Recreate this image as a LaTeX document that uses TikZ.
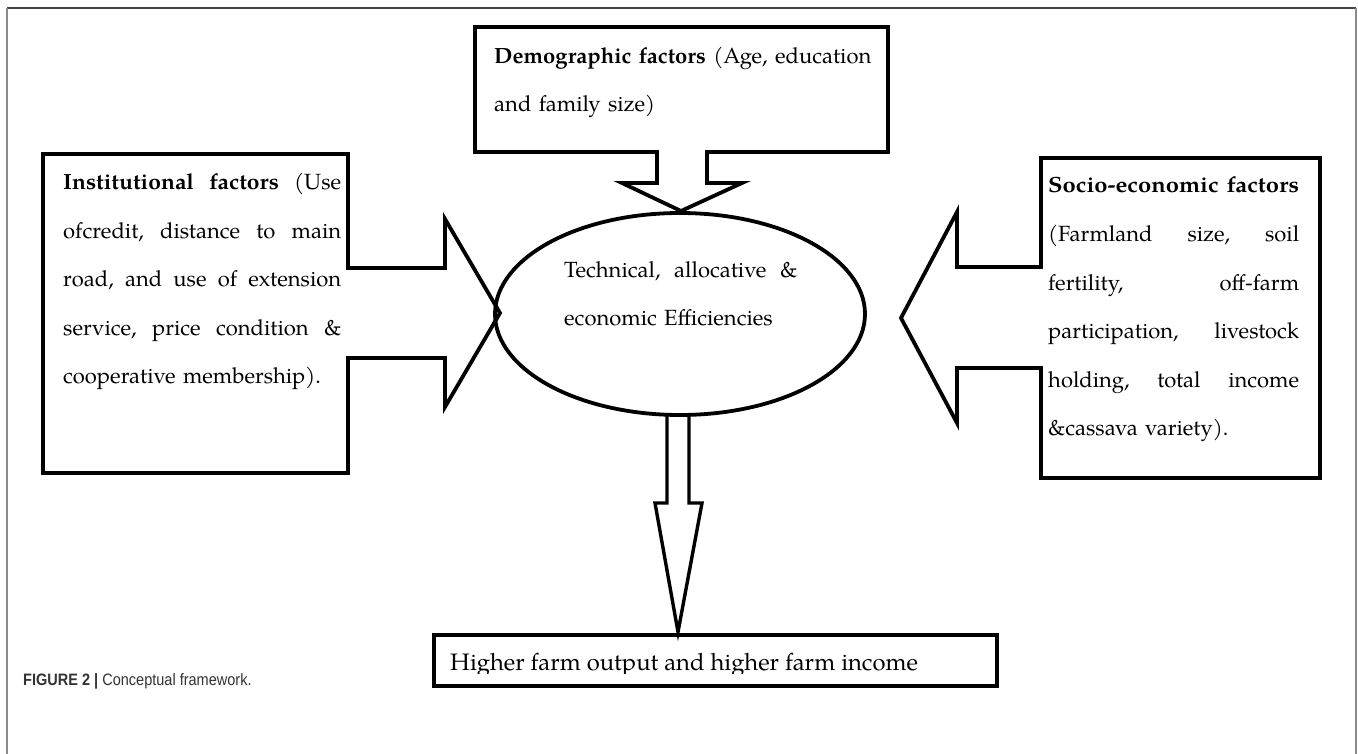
\documentclass[tikz,border=0pt]{standalone}
\usepackage{graphicx}
\usepackage{fontspec}
\usetikzlibrary{shapes.geometric}
\newfontfamily\capfont[FakeStretch=0.88]{Liberation Sans}
\newfontfamily\palfont{texgyrepagella}[Extension=.otf, UprightFont=*-regular, BoldFont=*-bold, ItalicFont=*-italic, BoldItalicFont=*-bolditalic]
\newcommand{\jl}[2]{\leavevmode\hbox to #1{#2}}
\newcommand{\sk}{\hfill}
\definecolor{framedark}{HTML}{444444}
\definecolor{frameside}{HTML}{8A8A8A}
\definecolor{capgray}{HTML}{333333}
\begin{document}
\begin{tikzpicture}[x=1pt,y=-1pt,
  outline/.style={line width=3.8pt, line join=miter, miter limit=10},
  txt/.style={anchor=base west, inner sep=0pt,
    font=\palfont\fontsize{22}{48.5}\selectfont}
]
\useasboundingbox (0,0) rectangle (1358,754);

% page frame
\draw[framedark, line width=1.5pt] (7,8) -- (1356,8);
\draw[frameside, line width=2pt] (7,8) -- (7,754);
\draw[frameside, line width=2pt] (1356,8) -- (1356,754);

% central ellipse
\node[ellipse, draw, outline, minimum width=370pt, minimum height=202pt, inner sep=0pt] (eff) at (680,314) {};
\node[txt, text width=233pt] (efftxt) at (564,277)
  {\jl{233pt}{Technical,\sk allocative\sk \&}\\economic Efficiencies};

% top callout (demographic)
\draw[outline] (475,27) -- (888,27) -- (888,152) -- (707,152) -- (707,183) -- (742,183)
  -- (681,211) coordinate (demotip) -- (622,183) -- (657,183) -- (657,152) -- (475,152) -- cycle;
\node[txt, text width=400pt, font=\palfont\fontsize{22}{47.5}\selectfont] (demotxt) at (494,64)
  {\textbf{Demographic factors} (Age, education\\and family size)};

% left callout (institutional)
\draw[outline] (43,154) -- (348,154) -- (348,268) -- (445,268) -- (445,219)
  -- (500,313) coordinate (insttip) -- (445,407) -- (445,358) -- (348,358) -- (348,473) -- (43,473) -- cycle;
\node[txt, text width=278pt] (insttxt) at (63,190)
  {\jl{278pt}{\scalebox{1.04}[1]{\textbf{Institutional}}\sk\scalebox{1.04}[1]{\textbf{factors}}\sk(Use}\\
   \jl{278pt}{ofcredit,\sk distance\sk to\sk main}\\
   \jl{278pt}{road,\sk and\sk use\sk of\sk extension}\\
   \jl{278pt}{service,\sk price\sk condition\sk \&}\\
   cooperative membership).};

% right callout (socio-economic)
\draw[outline] (1041,158) -- (1320,158) -- (1320,478) -- (1041,478) -- (1041,368) -- (957,368)
  -- (957,423) -- (901,318) coordinate (sociotip) -- (957,212) -- (957,267) -- (1041,267) -- cycle;
\node[txt, text width=251pt, font=\palfont\fontsize{22}{48.6}\selectfont] (sociotxt) at (1048,193)
  {\jl{251pt}{\resizebox{251pt}{\height}{\textbf{Socio-economic factors}}}\\
   \jl{251pt}{(Farmland\sk size,\sk soil}\\
   \jl{251pt}{fertility,\sk off-farm}\\
   \jl{251pt}{participation,\sk livestock}\\
   \jl{251pt}{holding,\sk total\sk income}\\
   \&cassava variety).};

% bottom arrow
\coordinate (stemL) at (667,415);
\coordinate (stemR) at (689,415);
\draw[outline, line width=3.4pt] (stemL) -- (667,503) -- (655,503) -- (678,632) coordinate (outtip)
  -- (702,503) -- (689,503) -- (stemR);

% bottom box
\node[draw, outline, minimum width=563pt, minimum height=51pt, inner sep=0pt, anchor=north west] (outbox) at (432,633) {};
\begin{scope}
  \clip (432,600) rectangle (995,673);
  \node[txt, font=\palfont\fontsize{23.8}{30}\selectfont] (outtxt) at (450,670) {Higher farm output and higher farm income};
\end{scope}

% caption
\node[anchor=base west, inner sep=0pt, text=capgray, font=\capfont\fontsize{16.5}{18}\selectfont] (caption) at (23,685)
  {\textbf{FIGURE 2 |} Conceptual framework.};
\end{tikzpicture}
\end{document}
